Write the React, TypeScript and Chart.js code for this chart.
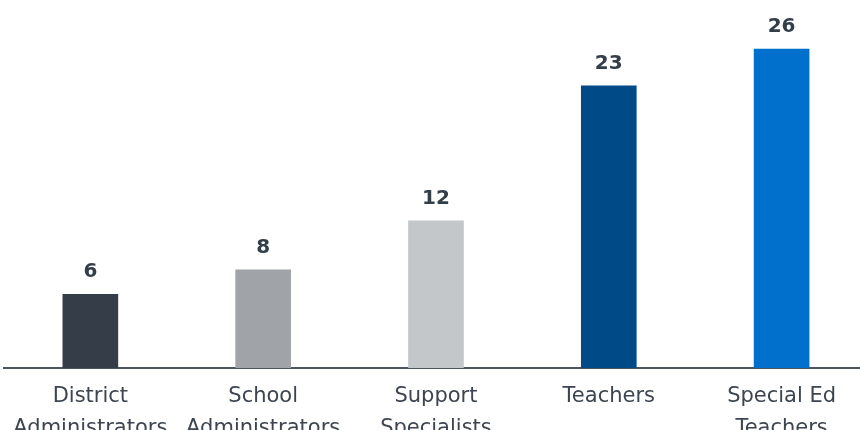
import React, { useEffect, useRef } from "react";
import { Chart, registerables } from "chart.js";

Chart.register(...registerables);

const categories: string[][] = [
  ["District", "Administrators"],
  ["School", "Administrators"],
  ["Support", "Specialists"],
  ["Teachers"],
  ["Special Ed", "Teachers"],
];
const values: number[] = [6, 8, 12, 23, 26];
const barColors: string[] = ["#343d48", "#a0a3a7", "#c4c7ca", "#004a87", "#0070cc"];
const yMax = 30;

const valueLabels = {
  id: "valueLabels",
  afterDatasetsDraw(chart: any) {
    const ctx = chart.ctx;
    const meta = chart.getDatasetMeta(0);
    ctx.save();
    ctx.font = "bold 20px 'DejaVu Sans'";
    ctx.fillStyle = "#333e4b";
    ctx.textAlign = "center";
    ctx.textBaseline = "alphabetic";
    meta.data.forEach((bar: any, i: number) => {
      ctx.fillText(String(values[i]), bar.x, bar.y - 17);
    });
    ctx.restore();
  },
};

export default function App() {
  const ref = useRef<HTMLCanvasElement>(null);
  useEffect(() => {
    if (!ref.current) return;
    const chart = new Chart(ref.current, {
      type: "bar",
      data: {
        labels: categories,
        datasets: [
          {
            data: values,
            backgroundColor: barColors,
            barThickness: 55,
            borderWidth: 0,
          },
        ],
      },
      options: {
        responsive: false,
        animation: false,
        devicePixelRatio: 1,
        layout: { padding: { left: 3, right: 0, top: 0, bottom: 0 } },
        plugins: { legend: { display: false }, tooltip: { enabled: false } },
        scales: {
          x: {
            grid: { display: false, drawTicks: false },
            border: { display: true, color: "#4b5560", width: 2 },
            ticks: {
              color: "#3d4550",
              font: { family: "'DejaVu Sans'", size: 21, lineHeight: 32 / 21 },
              padding: 13,
              maxRotation: 0,
              autoSkip: false,
            },
            afterFit: (scale: any) => {
              scale.height = 62;
            },
          },
          y: { display: false, min: 0, max: yMax },
        },
      },
      plugins: [valueLabels],
    });
    return () => chart.destroy();
  }, []);
  return (
    <div style={{ position: "absolute", left: 0, top: 0, width: 860, height: 430, overflow: "hidden", background: "#fff" }}>
      <canvas ref={ref} width={868} height={430} style={{ width: 868, height: 430, display: "block" }} />
    </div>
  );
}
